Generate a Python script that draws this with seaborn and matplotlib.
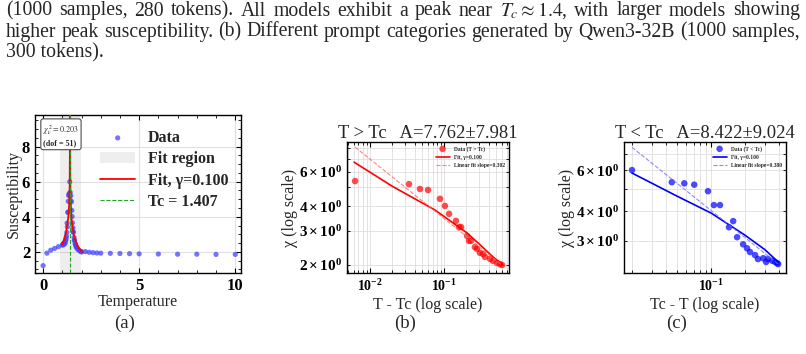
import numpy as np
import pandas as pd
import matplotlib
matplotlib.use("Agg")
import matplotlib.pyplot as plt
import seaborn as sns

Tc = 1.407
fit_halfwidth = 0.55

# (a) points outside the critical window
T_outer = [0.0, 0.2, 0.4, 0.6, 0.8, 2.2, 2.4, 2.6, 2.8, 3.0, 3.5, 4.0, 4.5, 5.0, 6.0, 7.0, 8.0, 9.0, 10.0]
chi_outer = [1.22, 1.93, 2.10, 2.20, 2.30, 2.02, 1.98, 1.96, 1.94, 1.93, 1.92, 1.91, 1.90, 1.89, 1.88, 1.87, 1.87, 1.86, 1.86]

# (b) T > Tc
dt_hi = [0.0063, 0.0337, 0.0474, 0.0608, 0.0883, 0.103, 0.117, 0.145, 0.160, 0.170, 0.205, 0.218, 0.232,
         0.262, 0.279, 0.306, 0.336, 0.358, 0.419, 0.459, 0.520, 0.571, 0.608]
chi_hi = [5.39, 5.20, 4.91, 4.85, 4.37, 4.02, 3.66, 3.37, 3.13, 3.13, 2.82, 2.66, 2.66,
          2.47, 2.42, 2.31, 2.28, 2.20, 2.15, 2.10, 2.05, 2.02, 2.00]

# (c) T < Tc
dt_lo = [0.020, 0.045, 0.058, 0.071, 0.094, 0.106, 0.120, 0.144, 0.157, 0.170, 0.192, 0.208, 0.221,
         0.245, 0.260, 0.289, 0.307, 0.319, 0.347, 0.368, 0.384, 0.392]
chi_lo = [6.00, 5.33, 5.27, 5.20, 4.88, 4.26, 4.26, 3.43, 3.64, 3.11, 2.90, 2.79, 2.69,
          2.61, 2.51, 2.53, 2.44, 2.51, 2.47, 2.44, 2.41, 2.39]

# power-law fit curves
fit_dt_hi = [0.001, 0.0061, 0.02, 0.0755, 0.205, 0.30, 0.46, 0.627]
fit_chi_hi = [10.5, 6.74, 5.07, 3.83, 2.92, 2.56, 2.20, 2.00]
fit_dt_lo = [0.001, 0.020, 0.05, 0.10, 0.20, 0.30, 0.392]
fit_chi_lo = [10.5, 5.83, 4.65, 3.94, 3.17, 2.75, 2.44]

# linear fits in log-log space
lin_dt_hi = [0.0063, 0.608]
lin_chi_hi = [8.05, 2.00]
lin_dt_lo = [0.020, 0.392]
lin_chi_lo = [7.50, 2.39]

caption = [
    "(1000 samples, 280 tokens). All models exhibit a peak near $T_c\\approx1.4$, with larger models showing",
    "higher peak susceptibility. (b) Different prompt categories generated by Qwen3-32B (1000 samples,",
    "300 tokens).",
]

sns.set_style("ticks")
plt.rcParams.update({
    "font.family": "serif",
    "font.serif": ["Liberation Serif", "DejaVu Serif"],
    "mathtext.fontset": "stix",
    "xtick.direction": "in",
    "ytick.direction": "in",
    "xtick.top": True,
    "ytick.right": True,
    "xtick.minor.visible": True,
    "ytick.minor.visible": True,
    "axes.edgecolor": "black",
    "axes.linewidth": 1.0,
    "xtick.color": "black",
    "ytick.color": "black",
})

W, H = 806, 354
fig = plt.figure(figsize=(W / 100, H / 100), dpi=100)


def px_axes(l, t, r, b):
    return fig.add_axes([l / W, 1 - b / H, (r - l) / W, (b - t) / H])


# ---------------- (a)
ax_a = px_axes(35, 115, 241, 273)
df_a = pd.DataFrame({
    "T": list(T_outer) + [Tc - d for d in dt_lo] + [Tc + d for d in dt_hi],
    "chi": list(chi_outer) + list(chi_lo) + list(chi_hi),
})
ax_a.grid(True, which="major", color="0.88", lw=0.8)
ax_a.axvspan(Tc - fit_halfwidth, Tc + fit_halfwidth, color="0.5", alpha=0.13, lw=0, label="Fit region")
sns.scatterplot(data=df_a, x="T", y="chi", ax=ax_a, color="#4545ff", alpha=0.75, s=14,
                edgecolor="none", label="Data", zorder=3)
fit_T = [Tc - d for d in fit_dt_lo[::-1]] + [Tc + d for d in fit_dt_hi]
fit_c = list(fit_chi_lo[::-1]) + list(fit_chi_hi)
ax_a.plot(fit_T, fit_c, color="red", lw=1.3, label="Fit, γ=0.100", zorder=4)
ax_a.axvline(Tc, color="#1fa81f", ls="--", lw=0.8, label="Tc = 1.407", zorder=5)
ax_a.set_xlim(-0.42, 10.3)
ax_a.set_ylim(0.8, 9.8)
ax_a.set_xticks([0, 5, 10])
ax_a.set_yticks([2, 4, 6, 8])
ax_a.tick_params(labelsize=12)
ax_a.set_xlabel("Temperature", fontsize=11.5, labelpad=0)
ax_a.set_ylabel("Susceptibility", fontsize=11.5, labelpad=0)
h, l = ax_a.get_legend_handles_labels()
order = [l.index(k) for k in ["Data", "Fit region", "Fit, γ=0.100", "Tc = 1.407"]]
ax_a.legend([h[i] for i in order], [l[i] for i in order], loc="upper left",
            bbox_to_anchor=(0.285, 0.945), frameon=False, prop={"size": 11.5, "weight": "bold"},
            handlelength=2.2, labelspacing=0.33, borderaxespad=0)
ax_a.text(0.04, 0.945, "$\\chi^2_\\nu=0.203$\n(dof = 51)", transform=ax_a.transAxes, fontsize=5.8,
          fontweight="bold", ha="left", va="top", linespacing=1.3,
          bbox=dict(boxstyle="round,pad=0.3", fc="white", ec="0.3", lw=0.8), zorder=6)


def loglog_panel(box, dt, chi, fdt, fchi, ldt, lchi, col, lcol, title, xlabel, tag, slope, xlim, ylim):
    ax = px_axes(*box)
    ax.set_xscale("log")
    ax.set_yscale("log")
    ax.grid(True, which="both", color="0.87", lw=0.6)
    sns.scatterplot(x=dt, y=chi, ax=ax, color=col, alpha=0.7, s=22, edgecolor="none",
                    label=f"Data ({tag})", zorder=3)
    ax.plot(fdt, fchi, color=col, lw=1.2, label="Fit, γ=0.100", zorder=4)
    ax.plot(ldt, lchi, color=lcol, lw=0.8, ls="--", alpha=0.8,
            label=f"Linear fit slope={slope}", zorder=4)
    ax.set_xlim(*xlim)
    ax.set_ylim(*ylim)
    ax.tick_params(axis="x", which="both", labelsize=10)
    ax.tick_params(axis="y", which="both", labelsize=11)
    ax.set_title(title, fontsize=13.4, pad=3)
    ax.set_xlabel(xlabel, fontsize=11.5, labelpad=2)
    ax.set_ylabel("χ (log scale)", fontsize=11.5, labelpad=1)
    ax.legend(loc="upper right", frameon=False, prop={"size": 4, "weight": "bold"},
              handlelength=2.5, borderaxespad=0.3, labelspacing=0.6)
    return ax


ax_b = loglog_panel((347, 142, 509, 273), dt_hi, chi_hi, fit_dt_hi[1:], fit_chi_hi[1:], lin_dt_hi, lin_chi_hi,
                    "red", "#ff6666", "T > Tc   A=7.762±7.981", "T - Tc (log scale)", "T > Tc", "0.302",
                    (0.0049, 0.755), (1.82, 8.55))
ax_c = loglog_panel((624, 142, 786, 273), dt_lo, chi_lo, fit_dt_lo[1:], fit_chi_lo[1:], lin_dt_lo, lin_chi_lo,
                    "blue", "#6f6fff", "T < Tc   A=8.422±9.024", "Tc - T (log scale)", "T < Tc", "0.380",
                    (0.017, 0.46), (2.19, 7.9))

# sub-figure tags
for x, s in [(125, "(a)"), (405, "(b)"), (677, "(c)")]:
    fig.text(x / W, 1 - 323 / H, s, fontsize=13.5, ha="center", va="center")

# justified caption lines
fig.canvas.draw()
renderer = fig.canvas.get_renderer()
cap_size = 14.2
x0, x1 = 6, 800
for i, line in enumerate(caption):
    y = 1 - (11 + 21 * i) / H
    if i == len(caption) - 1:
        fig.text(x0 / W, y, line, fontsize=cap_size, va="center")
        continue
    words = line.split(" ")
    arts = [fig.text(0, y, w, fontsize=cap_size, va="center") for w in words]
    widths = [a.get_window_extent(renderer).width for a in arts]
    gap = (x1 - x0 - sum(widths)) / (len(words) - 1)
    x = x0
    for a, w in zip(arts, widths):
        a.set_x(x / W)
        x += w + gap

# bold tick labels
for ax in (ax_a, ax_b, ax_c):
    for lab in ax.get_xticklabels(which="both") + ax.get_yticklabels(which="both"):
        lab.set_fontweight("bold")

fig.savefig("out.png", dpi=100)
